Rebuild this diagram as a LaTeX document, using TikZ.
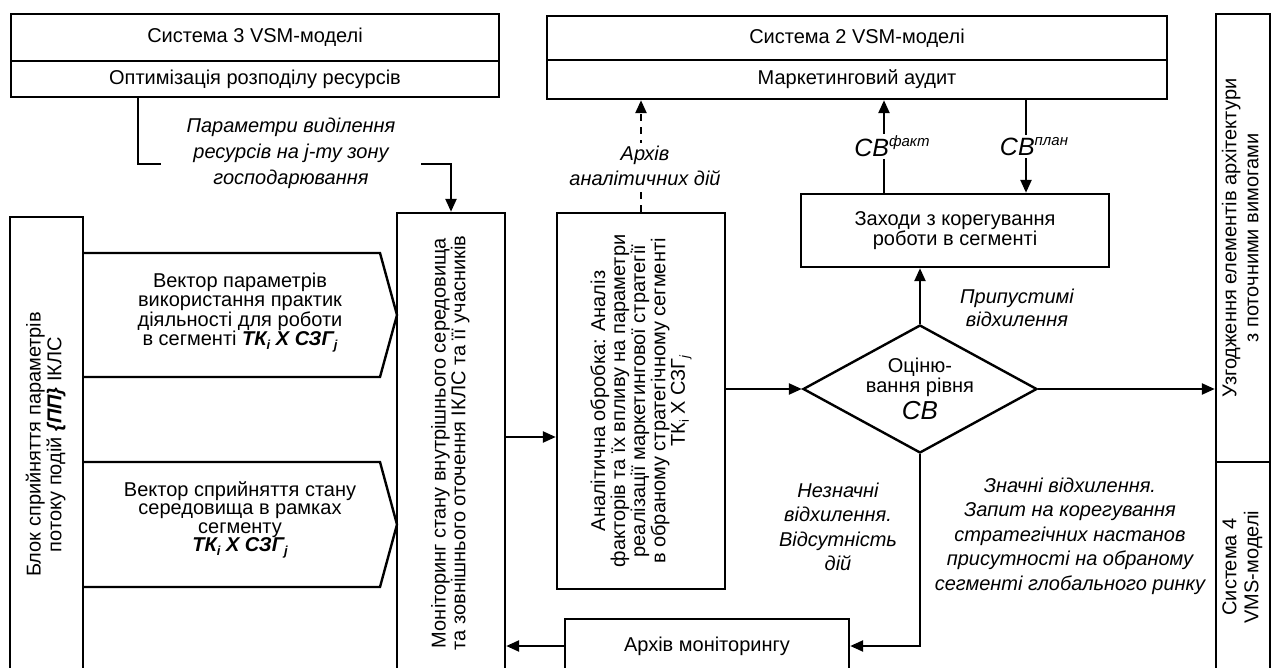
\documentclass[tikz,border=0pt]{standalone}
\usepackage{fontspec}
\usepackage{graphicx}
\setmainfont{Liberation Sans}
\usetikzlibrary{arrows.meta,shapes.geometric}

\newcommand{\lowidx}[1]{\raisebox{-4pt}{\fontsize{13}{13}\selectfont #1}}
\newcommand{\segm}{\textbf{\textit{ТК\lowidx{i} Х СЗГ\lowidx{j}}}}
\newcommand{\vtext}[1]{\rotatebox{90}{\begin{tabular}{@{}c@{}}#1\end{tabular}}}

\tikzset{
  frame/.style={line width=2.4pt},
  box/.style={draw, frame, inner sep=0pt, align=center, font=\fontsize{20}{18}\selectfont},
  lbl/.style={align=center, font=\fontsize{20}{25}\selectfont\itshape},
  arr/.style={frame, -{Triangle[length=13pt,width=11pt]}},
  cb/.style={fill=white, inner sep=2pt, font=\fontsize{25}{25}\selectfont\itshape},
}

\begin{document}
\begin{tikzpicture}[x=1pt, y=-1pt]
\useasboundingbox (0,0) rectangle (1272,668);
\clip (0,0) rectangle (1272,668);

\node[box, minimum width=488, minimum height=47] (sys3) at (255,37.5) {Система 3 VSM-моделі};
\node[box, minimum width=488, minimum height=36] (opt) at (255,79) {Оптимізація розподілу ресурсів};
\node[box, minimum width=620, minimum height=44] (sys2) at (857,38) {Система 2 VSM-моделі};
\node[box, minimum width=620, minimum height=39] (audit) at (857,79.5) {Маркетинговий аудит};
\node[box, minimum width=54, minimum height=448, font=\fontsize{20}{22}\selectfont] (agree) at (1243,238)
  {\vtext{Узгодження елементів архітектури\\з поточними вимогами}};
\node[box, minimum width=54, minimum height=210, font=\fontsize{20}{22}\selectfont] (sys4) at (1243,567)
  {\vtext{Система 4\\VMS-моделі}};

\node[box, minimum width=73, minimum height=455, font=\fontsize{20}{20}\selectfont] (block) at (46.5,444.5)
  {\vtext{Блок сприйняття параметрів\\потоку подій \textbf{\textit{\{ПП\}}} ІКЛС}};
\draw[frame] (83,253) -- (380,253) -- (397,315) -- (380,377) -- (83,377);
\node[align=center, font=\fontsize{20}{18.5}\selectfont] (vec1) at (240,313)
  {Вектор параметрів\\використання практик\\діяльності для роботи\\в сегменті \segm};
\draw[frame] (83,462) -- (380,462) -- (397,524.5) -- (380,587) -- (83,587);
\node[align=center, font=\fontsize{20}{18.5}\selectfont] (vec2) at (240,520)
  {Вектор сприйняття стану\\середовища в рамках\\сегменту\\\segm};

\node[box, minimum width=108, minimum height=460, font=\fontsize{20}{18}\selectfont] (mon) at (451,443)
  {\vtext{Моніторинг стану внутрішнього середовища\\та зовнішнього оточення ІКЛС та її учасників}};
\node[box, minimum width=168, minimum height=376, font=\fontsize{20}{18.5}\selectfont] (anal) at (641,401)
  {\vtext{Аналітична обробка: Аналіз\\факторів та їх впливу на параметри\\реалізації маркетингової стратегії\\в обраному стратегічному сегменті\\ТК\lowidx{i} Х СЗГ\lowidx{\textit{j}}}};
\node[box, minimum width=308, minimum height=73, font=\fontsize{20}{18}\selectfont] (meas) at (955,230.5)
  {Заходи з корегування\\роботи в сегменті};
\node[box, diamond, aspect=2, minimum width=234, minimum height=128] (eval) at (920,389)
  {Оціню-\\вання рівня\\[4pt]{\fontsize{26}{26}\selectfont\itshape CB}};
\node[box, minimum width=284, minimum height=54] (arch) at (707,646) {Архів моніторингу};

\draw[arr] ([xshift=128pt]opt.south west) -- ++(0,66) -| (mon.north);
\node[lbl, fill=white, inner xsep=26pt, inner ysep=2pt, font=\fontsize{20}{26}\selectfont\itshape] (parlbl) at (291,153)
  {Параметри виділення\\ресурсів на j-ту зону\\господарювання};
\draw[arr, dash pattern=on 7pt off 6pt] (anal.north) -- (anal.north |- audit.south);
\node[lbl, fill=white, inner sep=3pt] (archlbl) at (645,166) {Архів\\аналітичних дій};
\draw[arr] ([xshift=-71pt]meas.north) -- ([xshift=-71pt]meas.north |- audit.south)
  node[cb, midway, xshift=8pt] (fact) {CB\raisebox{10pt}{\fontsize{15}{15}\selectfont факт}};
\draw[arr] ([xshift=71pt]meas.north |- audit.south) -- ([xshift=71pt]meas.north)
  node[cb, midway, xshift=8pt] (plan) {CB\raisebox{10pt}{\fontsize{15}{15}\selectfont план}};
\draw[arr] (eval.north) -- (eval.north |- meas.south);
\node[lbl, font=\fontsize{20}{23}\selectfont\itshape] (oklbl) at (1017,308) {Припустимі\\відхилення};

\draw[arr] ([yshift=6pt]mon.east) -- ([yshift=6pt]mon.east -| anal.west);
\draw[arr] (eval.west -| anal.east) -- (eval.west);
\draw[arr] (eval.east) -- (eval.east -| agree.west);
\draw[arr] (eval.south) |- (arch.east);
\draw[arr] (arch.west) -- (arch.west -| mon.east);

\node[lbl, font=\fontsize{20}{24.5}\selectfont\itshape] (minor) at (838,527)
  {Незначні\\відхилення.\\Відсутність\\дій};
\node[lbl, font=\fontsize{20}{24.5}\selectfont\itshape] (major) at (1070,536)
  {Значні відхилення.\\Запит на корегування\\стратегічних настанов\\присутності на обраному\\сегменті глобального ринку};
\end{tikzpicture}
\end{document}
